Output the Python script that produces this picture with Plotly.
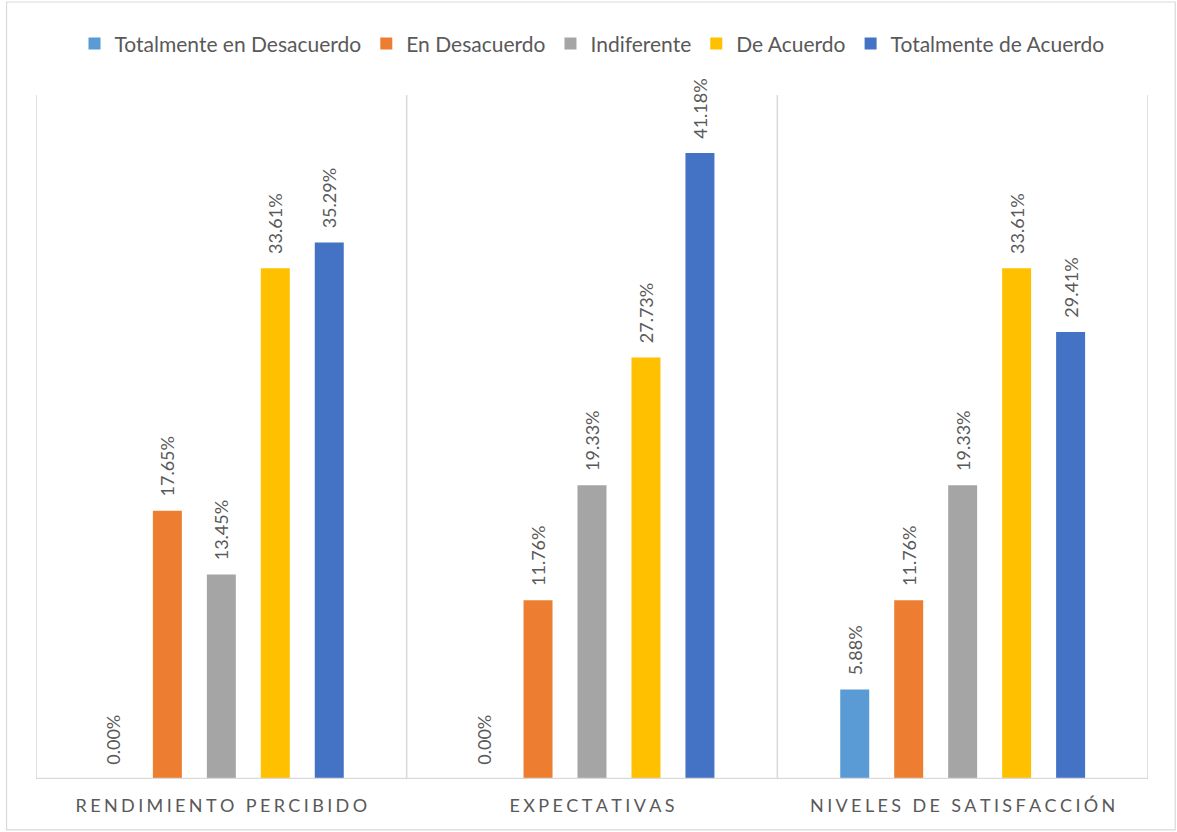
import plotly.graph_objects as go

categories = ["RENDIMIENTO PERCIBIDO", "EXPECTATIVAS", "NIVELES DE SATISFACCIÓN"]
series_names = ["Totalmente en Desacuerdo", "En Desacuerdo", "Indiferente",
                "De Acuerdo", "Totalmente de Acuerdo"]
totalmente_desacuerdo = [0.00, 0.00, 5.88]
en_desacuerdo = [17.65, 11.76, 11.76]
indiferente = [13.45, 19.33, 19.33]
de_acuerdo = [33.61, 27.73, 33.61]
totalmente_acuerdo = [35.29, 41.18, 29.41]
colors = ["#5B9BD5", "#ED7D31", "#A5A5A5", "#FFC000", "#4472C4"]

TEXT = "#595959"
LINE = "#D9D9D9"
FONT = "Lato, Open Sans, sans-serif"


def spaced(label):
    # widen the category captions with thin + hair spaces between letters
    gap = "\u2009\u200a"
    return gap.join(label)


fig = go.Figure()
for name, vals, col in zip(series_names,
                           [totalmente_desacuerdo, en_desacuerdo, indiferente,
                            de_acuerdo, totalmente_acuerdo], colors):
    fig.add_trace(go.Bar(
        name=name, x=categories, y=vals, marker=dict(color=col, line=dict(width=0)),
        texttemplate="\u2002\u2009%{y:.2f}%", textposition="outside", textangle=-90,
        constraintext="none", cliponaxis=False,
        textfont=dict(family=FONT, size=18, color=TEXT),
    ))

# vertical separators at category boundaries and baseline
for xb in [-0.5, 0.5, 1.5, 2.5]:
    fig.add_shape(type="line", xref="x", yref="y", x0=xb, x1=xb, y0=0, y1=45,
                  line=dict(color=LINE, width=1.5), layer="below")
fig.add_shape(type="line", xref="x", yref="y", x0=-0.5, x1=2.5, y0=0, y1=0,
              line=dict(color=LINE, width=2.5), layer="above")
# outer chart border
fig.add_shape(type="rect", xref="paper", yref="paper",
              x0=-0.0265, x1=1.0245, y0=-0.0745, y1=1.136,
              line=dict(color=LINE, width=1.2), fillcolor="rgba(0,0,0,0)")

fig.update_layout(
    width=1177, height=832,
    margin=dict(l=36, r=29, t=95, b=53),
    paper_bgcolor="white", plot_bgcolor="white",
    barmode="group", bargap=0.272, bargroupgap=0.463,
    font=dict(family=FONT, color=TEXT),
    showlegend=True,
    legend=dict(orientation="h", x=0.5, xanchor="center", y=1.0746, yanchor="middle",
                font=dict(family=FONT, size=21, color=TEXT), itemwidth=30,
                traceorder="normal"),
    xaxis=dict(
        tickmode="array", tickvals=categories, ticktext=[spaced(c) for c in categories],
        showgrid=False, showline=False, zeroline=False, ticks="",
        tickfont=dict(family=FONT, size=18, color=TEXT), ticklabelstandoff=14,
        range=[-0.5, 2.5],
    ),
    yaxis=dict(range=[0, 45], visible=False, showgrid=False, zeroline=False),
)

fig.write_html("out.html")
